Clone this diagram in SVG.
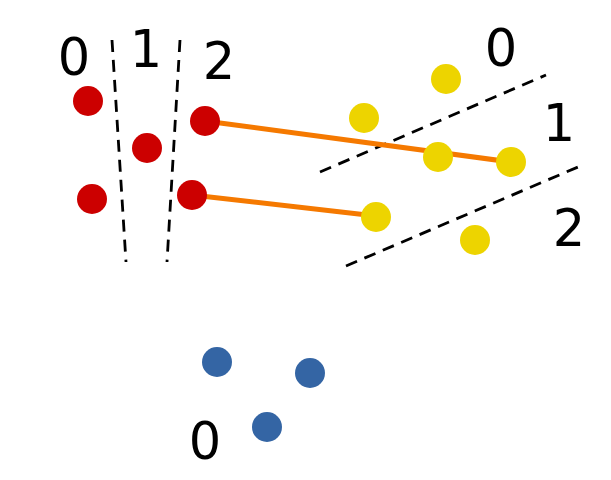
<svg xmlns="http://www.w3.org/2000/svg" width="611" height="480" viewBox="0 0 611 480">
<style>
.r{fill:#cc0000}.y{fill:#edd400}.b{fill:#3465a4}
.d{stroke:#000;stroke-width:2.8;stroke-dasharray:12 8;fill:none}
.e{stroke:#f57900;stroke-width:5;fill:none}
text{font-family:"DejaVu Sans",sans-serif;font-size:51px;fill:#000;text-anchor:middle}
</style>
<rect width="611" height="480" fill="#fff"/>
<g id="dividers">
<line class="d" x1="112" y1="40" x2="126" y2="262"/>
<line class="d" x1="180" y1="40" x2="167" y2="262"/>
<line class="d" x1="320" y1="172" x2="546" y2="75"/>
<line class="d" x1="346" y1="266" x2="578" y2="167"/>
</g>
<g id="connectors">
<line class="e" x1="205" y1="121" x2="511" y2="162"/>
<line class="e" x1="192" y1="195" x2="376" y2="216"/>
</g>
<g id="labels">
<text x="74" y="75">0</text>
<text x="146" y="67">1</text>
<text x="219" y="79">2</text>
<text x="501" y="66">0</text>
<text x="559" y="141">1</text>
<text x="569" y="246">2</text>
<text x="205" y="459">0</text>
</g>
<g id="red">
<circle id="r1" class="r" cx="88" cy="101" r="15"/>
<circle id="r2" class="r" cx="147" cy="148" r="15"/>
<circle id="r3" class="r" cx="92" cy="199" r="15"/>
<circle id="r4" class="r" cx="205" cy="121" r="15"/>
<circle id="r5" class="r" cx="192" cy="195" r="15"/>
</g>
<g id="yellow">
<circle id="y1" class="y" cx="446" cy="79" r="15"/>
<circle id="y2" class="y" cx="364" cy="118" r="15"/>
<circle id="y3" class="y" cx="438" cy="157" r="15"/>
<circle id="y4" class="y" cx="511" cy="162" r="15"/>
<circle id="y5" class="y" cx="376" cy="217" r="15"/>
<circle id="y6" class="y" cx="475" cy="240" r="15"/>
</g>
<g id="blue">
<circle id="b1" class="b" cx="217" cy="362" r="15"/>
<circle id="b2" class="b" cx="310" cy="373" r="15"/>
<circle id="b3" class="b" cx="267" cy="427" r="15"/>
</g>
</svg>
